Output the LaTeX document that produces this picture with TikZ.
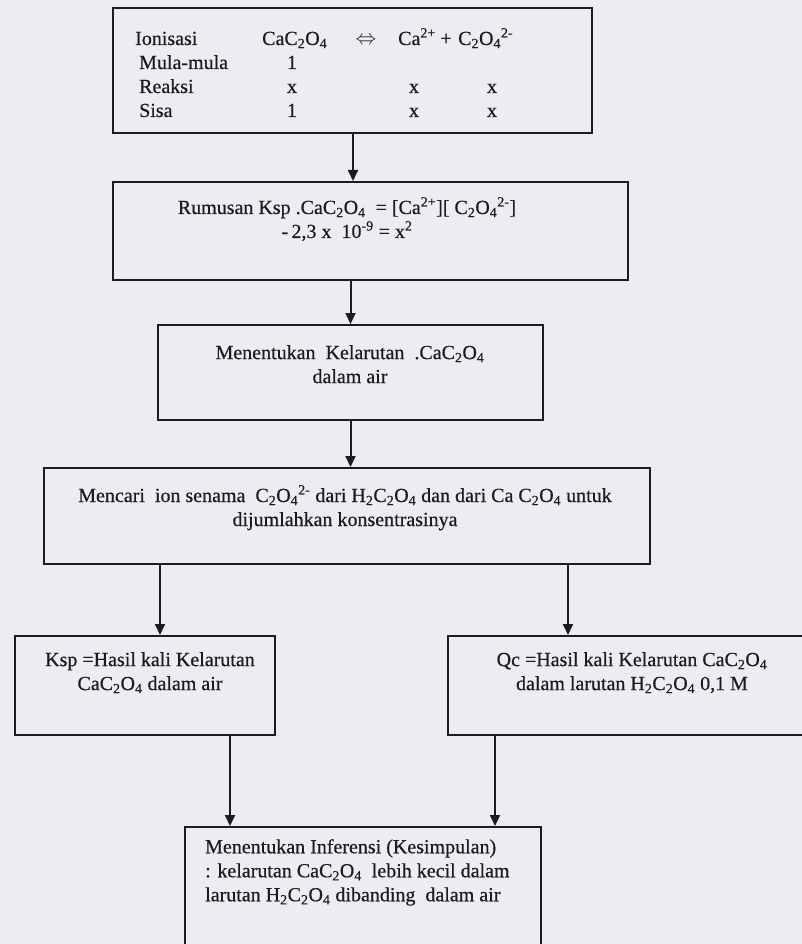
\documentclass[tikz,border=0pt]{standalone}
\usepackage{fontspec}
\setmainfont[FakeBold=0.5]{Liberation Serif}
\usetikzlibrary{arrows.meta}

\definecolor{paper}{RGB}{237,237,241}
\definecolor{ink}{RGB}{28,28,30}

\newcommand{\cox}{C\textsubscript{2}O\textsubscript{4}}
\newcommand{\caox}{CaC\textsubscript{2}O\textsubscript{4}}
\newcommand{\hox}{H\textsubscript{2}C\textsubscript{2}O\textsubscript{4}}

\tikzstyle{box}=[rectangle,draw=ink,line width=2pt,inner sep=0pt]
\tikzstyle{txt}=[text=ink,inner sep=0pt,align=center,font=\fontsize{20}{24}\selectfont]
\tikzstyle{lbl}=[txt,anchor=base west]
\tikzstyle{val}=[txt,anchor=base]
\tikzstyle{arr}=[draw=ink,line width=2pt,-{Triangle[width=10pt,length=11pt]}]

\begin{document}
\begin{tikzpicture}[x=1pt,y=-1pt]
	\fill[paper] (0,0) rectangle (802,944);
	\useasboundingbox (0,0) rectangle (802,944);

	% boxes
	\node (b1) at (352.5,70.5) [box,minimum width=479,minimum height=125] {};
	\node (b2) at (370.5,231)  [box,minimum width=515,minimum height=98] {};
	\node (b3) at (350.5,372.5) [box,minimum width=385,minimum height=95] {};
	\node (b4) at (347,516)    [box,minimum width=606,minimum height=96] {};
	\node (b5) at (145,685.5)  [box,minimum width=260,minimum height=99] {};
	\node (b6) at (629,685.5)  [box,minimum width=362,minimum height=99] {};
	\node (b7) at (363,908.5)  [box,minimum width=356,minimum height=163] {};

	% ionisasi table
	\node (ion)  at (135,45)  [lbl] {Ionisasi};
	\node (mula) at (139,69)  [lbl] {Mula-mula};
	\node (reak) at (139,93)  [lbl] {Reaksi};
	\node (sisa) at (139,117) [lbl] {Sisa};

	\node (cao)   at (262,45) [lbl] {\caox};
	\node (eqv)   at (366,45) [val] {$\Leftrightarrow$};
	\node (caion) at (398,45) [lbl] {Ca\textsuperscript{2+}};
	\node (plus)  at (446,45) [val] {+};
	\node (oxion) at (458,45) [lbl] {\cox\textsuperscript{2-}};

	\node (m1) at (292,69)  [val] {1};
	\node (r1) at (292,93)  [val] {x};
	\node (r2) at (414,93)  [val] {x};
	\node (r3) at (492,93)  [val] {x};
	\node (s1) at (292,117) [val] {1};
	\node (s2) at (414,117) [val] {x};
	\node (s3) at (492,117) [val] {x};

	% box texts
	\node (t2) at (347,197) [txt,anchor=north] {Rumusan Ksp .\caox\ \ = [Ca\textsuperscript{2+}][ \cox\textsuperscript{2-}]\\
		-\,2,3 x\ \ 10\textsuperscript{-9} = x\textsuperscript{2}};
	\node (t3) at (350,345) [txt,anchor=north] {Menentukan\ \ Kelarutan\ \ .\caox\\ dalam air};
	\node (t4) at (345,485) [txt,anchor=north] {Mencari\ \ ion senama\ \ \cox\textsuperscript{2-} dari \hox\ dan dari Ca \cox\ untuk\\ dijumlahkan konsentrasinya};
	\node (t5) at (150,652) [txt,anchor=north] {Ksp =Hasil kali Kelarutan\\ \caox\ dalam air};
	\node (t6) at (632,652) [txt,anchor=north] {Qc =Hasil kali Kelarutan \caox\\ dalam larutan \hox\ 0,1 M};
	\node (t7) at (205,839) [txt,anchor=north west,align=left] {Menentukan Inferensi (Kesimpulan)\\
		: kelarutan \caox\ \ lebih kecil dalam\\ larutan \hox\ dibanding\ \ dalam air};

	% arrows
	\coordinate (p1) at (353,0);
	\coordinate (p45) at (160,0);
	\coordinate (p46) at (568,0);
	\coordinate (p57) at (230,0);
	\coordinate (p67) at (495,0);

	\draw [arr] (b1.south -| p1) to (b2.north -| p1);
	\draw [arr] (b2.south -| b3.north) to (b3.north);
	\draw [arr] (b3.south) to (b4.north -| b3.south);
	\draw [arr] (b4.south -| p45) to (b5.north -| p45);
	\draw [arr] (b4.south -| p46) to (b6.north -| p46);
	\draw [arr] (b5.south -| p57) to (b7.north -| p57);
	\draw [arr] (b6.south -| p67) to (b7.north -| p67);

\end{tikzpicture}
\end{document}
